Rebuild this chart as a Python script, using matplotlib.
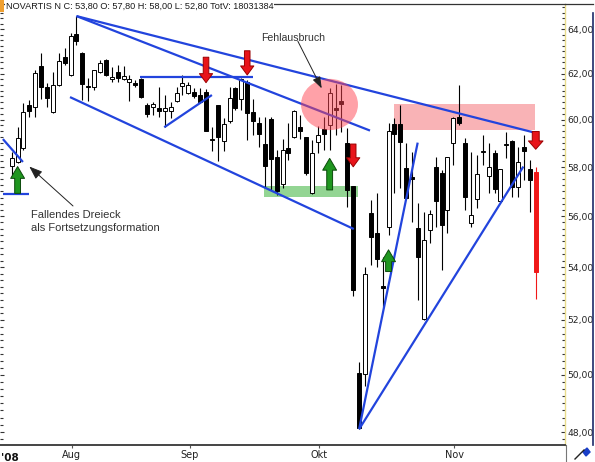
import numpy as np
import pandas as pd
import matplotlib
matplotlib.use("Agg")
import matplotlib.pyplot as plt
from matplotlib.ticker import FixedLocator, FuncFormatter, NullFormatter
from matplotlib.path import Path
from matplotlib.transforms import Affine2D
from matplotlib.lines import Line2D
from matplotlib.patches import Rectangle

# ---------------- data ----------------
dates = [d for d in pd.bdate_range("2008-07-18", "2008-11-21") if d != pd.Timestamp("2008-08-01")]

opens = [58.04, 58.22, 58.78, 60.63, 60.55, 62.34, 61.43, 60.34, 61.50, 62.76,
         61.94, 63.78, 62.93, 61.45, 61.40, 62.09, 62.61, 61.76, 62.06, 61.76,
         61.62, 61.60, 61.75, 60.63, 60.53, 60.48, 60.38, 60.38, 60.80, 61.46,
         61.13, 61.21, 61.06, 61.21, 59.19, 60.61, 59.10, 59.94, 61.35, 60.87,
         61.65, 60.34, 59.87, 58.96, 60.01, 58.40, 57.31, 58.78, 59.25, 59.69,
         59.25, 56.92, 59.06, 59.59, 59.77, 60.50, 60.80, 59.00, 57.20, 50.06,
         50.04, 56.14, 55.32, 53.26, 55.56, 59.81, 59.81, 57.95, 57.59, 55.52,
         52.03, 55.45, 58.02, 57.77, 56.25, 59.02, 60.12, 58.99, 55.74, 56.68,
         58.62, 57.63, 58.60, 56.62, 58.94, 59.10, 57.17, 58.85, 57.92, 57.80]
highs = [58.64, 59.70, 60.71, 60.84, 62.16, 62.90, 61.59, 62.09, 62.92, 63.14,
         63.84, 64.60, 62.95, 61.81, 62.16, 62.61, 62.65, 62.31, 62.39, 62.34,
         61.94, 61.72, 61.81, 60.71, 60.77, 61.43, 61.06, 60.77, 61.43, 61.94,
         61.65, 61.35, 61.35, 61.31, 59.70, 60.63, 60.05, 61.43, 61.43, 61.79,
         61.70, 60.87, 60.12, 60.10, 60.12, 58.71, 59.16, 59.84, 60.41, 60.19,
         59.27, 59.13, 59.73, 60.10, 61.35, 61.54, 61.50, 59.64, 57.22, 50.48,
         54.02, 56.65, 56.95, 54.41, 59.84, 60.05, 60.63, 58.99, 58.64, 56.52,
         56.18, 56.25, 58.40, 57.88, 58.42, 60.12, 61.50, 59.20, 58.64, 58.50,
         59.35, 58.99, 58.71, 57.93, 59.49, 59.12, 58.82, 59.35, 58.29, 58.00]
lows = [57.67, 58.15, 58.71, 60.12, 60.12, 60.87, 60.55, 60.30, 61.45, 62.39,
        61.91, 63.28, 60.84, 60.81, 61.28, 62.03, 61.90, 61.65, 61.65, 61.72,
        60.81, 61.43, 60.95, 60.12, 60.19, 60.10, 59.67, 60.05, 60.77, 61.06,
        61.09, 60.91, 60.70, 59.50, 58.68, 58.26, 58.68, 59.84, 60.41, 60.41,
        59.13, 59.35, 58.82, 57.13, 57.06, 56.86, 57.13, 58.29, 59.20, 59.16,
        57.67, 56.90, 58.60, 58.71, 58.71, 59.35, 59.47, 56.37, 52.88, 48.10,
        49.59, 54.09, 54.02, 52.50, 55.26, 56.92, 57.13, 56.70, 55.78, 52.75,
        52.00, 54.93, 55.58, 53.89, 55.32, 58.08, 59.77, 56.25, 55.58, 56.32,
        58.08, 56.92, 56.92, 56.60, 58.36, 56.79, 56.79, 57.47, 56.17, 52.80]
closes = [58.36, 59.23, 60.34, 60.38, 62.04, 61.40, 60.91, 61.50, 62.58, 62.49,
          63.69, 63.48, 61.54, 61.41, 62.14, 62.46, 61.94, 61.87, 61.82, 61.90,
          61.76, 61.50, 60.99, 60.24, 60.67, 60.38, 60.51, 60.55, 61.13, 61.57,
          61.50, 61.02, 60.77, 59.53, 59.13, 59.25, 59.81, 60.91, 60.48, 61.75,
          60.27, 59.95, 59.39, 58.04, 58.32, 57.03, 58.71, 58.60, 60.38, 59.53,
          57.74, 58.57, 59.35, 59.39, 61.16, 60.43, 60.66, 57.06, 53.13, 48.14,
          53.74, 55.17, 54.31, 53.19, 59.52, 59.39, 59.06, 56.72, 57.52, 54.41,
          55.06, 56.09, 56.62, 55.65, 58.40, 60.05, 59.84, 56.79, 56.05, 57.72,
          58.66, 58.02, 57.09, 57.91, 58.98, 57.17, 58.22, 58.67, 57.47, 53.80]

month_labels = ["Aug", "Sep", "Okt", "Nov"]
price_ticks = [48, 50, 52, 54, 56, 58, 60, 62, 64]
title = "NOVARTIS N C: 53,80 O: 57,80 H: 58,00 L: 52,80 TotV: 18031384"

# annotation geometry (bar index, price)
trend_lines = [
    ((11, 64.60), (89, 59.43)),
    ((11, 64.60), (60.85, 59.53)),
    ((9.9, 60.97), (58.1, 55.49)),
    ((21.8, 61.85), (41.0, 61.85)),
    ((25.9, 59.67), (34.0, 61.06)),
    ((-1.5, 59.17), (1.9, 58.21)),
    ((-1.5, 56.90), (2.9, 56.90)),
    ((59, 48.10), (68.95, 59.02)),
    ((59, 48.10), (86.9, 58.02)),
]
red_arrows = [(33, 62.73, 61.60), (40, 63.02, 61.94), (58, 58.96, 58.01)]
red_arrow_last = (89, 59.49, 58.74)
green_arrows = [(1, 56.92, 58.02), (54, 57.06, 58.36), (64, 53.83, 54.67)]
green_zone = (42.85, 58.82, 56.77, 57.23)
pink_zone = (64.93, 88.87, 59.56, 60.66)
pink_circle = (53.94, 60.67)

# ---------------- figure ----------------
W, H = 595, 462
fig = plt.figure(figsize=(W / 100, H / 100), dpi=100)
fig.patch.set_facecolor("white")
ax = fig.add_axes([0, (H - 445) / H, 565 / W, (445 - 4) / H])
ax.set_yscale("log")
ax.set_xlim(-1.99, 93.97)
ax.set_ylim(47.56, 65.16)

x = np.arange(len(opens))
o = np.array(opens); c = np.array(closes); h = np.array(highs); l = np.array(lows)
n = len(o)
up = c >= o
body_w = 0.68

# zones
ax.fill_between([green_zone[0], green_zone[1]], green_zone[2], green_zone[3],
                color="#93d593", lw=0, zorder=1)
ax.fill_between([pink_zone[0], pink_zone[1]], pink_zone[2], pink_zone[3],
                color="#f9b3b6", lw=0, zorder=1)

# wicks
ax.vlines(x[:-1], l[:-1], h[:-1], color="black", lw=0.8, zorder=3)
ax.vlines(x[-1], l[-1], h[-1], color="#f01818", lw=0.8, zorder=3)
# bodies
for i in range(n - 1):
    lo, hi = min(o[i], c[i]), max(o[i], c[i])
    fc = "white" if up[i] else "black"
    ax.bar(x[i], hi - lo, bottom=lo, width=body_w, facecolor=fc,
           edgecolor="black", lw=0.7, zorder=4)
ax.bar(x[-1], o[-1] - c[-1], bottom=c[-1], width=body_w + 0.05, facecolor="#f01818",
       edgecolor="#f01818", lw=0.7, zorder=4)

# trend lines
for (x0, y0), (x1, y1) in trend_lines:
    ax.plot([x0, x1], [y0, y1], color="#2244dd", lw=1.6, zorder=5, solid_capstyle="butt")

# pink circle (semi transparent over lines and candles)
ell = Path.unit_circle().transformed(Affine2D().scale(1.0, 0.9))
ax.scatter([pink_circle[0]], [pink_circle[1]], s=41 ** 2, marker=ell,
           color="#ff4452", alpha=0.5, lw=0, zorder=6)


def block_arrow(xi, y_tail, y_tip, fc, ec, tw, hw, hl):
    ax.annotate("", xy=(xi, y_tip), xytext=(xi, y_tail), zorder=7,
                arrowprops=dict(arrowstyle=f"simple,head_length={hl},head_width={hw},tail_width={tw}",
                                fc=fc, ec=ec, lw=0.7, shrinkA=0, shrinkB=0, mutation_scale=10))


for xi, yt, yp in red_arrows:
    block_arrow(xi, yt, yp, "#e8141a", "#9a0000", 0.40, 0.95, 0.65)
block_arrow(red_arrow_last[0], red_arrow_last[1], red_arrow_last[2], "#e8141a", "#9a0000", 0.50, 1.05, 0.60)
for xi, yt, yp in green_arrows:
    block_arrow(xi, yt, yp, "#1f961f", "#0b4a0b", 0.42, 1.00, 0.85)

# texts
tfont = dict(family=["Liberation Sans", "DejaVu Sans"], color="#333333")
ax.text(42.34, 63.62, "Fehlausbruch", fontsize=7.6, ha="left", va="center", zorder=8, **tfont)
ax.annotate("", xy=(52.65, 61.35), xytext=(48.6, 63.45), zorder=8,
            arrowprops=dict(arrowstyle="-|>,head_length=0.7,head_width=0.25", color="#222222",
                            lw=0.7, shrinkA=0, shrinkB=0, mutation_scale=10))
ax.text(3.23, 56.05, "Fallendes Dreieck", fontsize=8, ha="left", va="center", zorder=8, **tfont)
ax.text(3.23, 55.53, "als Fortsetzungsformation", fontsize=8, ha="left", va="center", zorder=8, **tfont)
ax.annotate("", xy=(2.99, 58.02), xytext=(10.41, 56.41), zorder=8,
            arrowprops=dict(arrowstyle="-|>,head_length=0.8,head_width=0.3", color="#222222",
                            lw=0.7, shrinkA=0, shrinkB=0, mutation_scale=10))

# ---------------- axes styling ----------------
ax.yaxis.set_major_locator(FixedLocator(price_ticks))
minor = [v for v in np.arange(47.75, 65.2, 0.25) if abs(v - round(v)) > 1e-6 or int(round(v)) % 2]
ax.yaxis.set_minor_locator(FixedLocator(minor))
ax.yaxis.set_major_formatter(FuncFormatter(lambda v, p: f"{v:.2f}".replace(".", ",")))
ax.yaxis.set_minor_formatter(NullFormatter())
ax.yaxis.set_ticks_position("both")
ax.tick_params(axis="y", which="both", direction="in", labelleft=False, labelright=True,
               labelsize=6.6, labelcolor="#222222", pad=2, color="#333333")
ax.tick_params(axis="y", which="major", length=3, width=0.8)
ax.tick_params(axis="y", which="minor", length=2, width=0.8)
for lab in ax.get_yticklabels():
    lab.set_family(["DejaVu Sans"])

month_idx = []
for m in [8, 9, 10, 11]:
    month_idx.append(next(i for i, d in enumerate(dates) if d.month == m))
ax.set_xticks([i + 0.2 for i in month_idx])
ax.set_xticklabels(month_labels)
ax.tick_params(axis="x", direction="out", length=2, width=0.8, labelsize=7,
               labelcolor="#222222", pad=1.5, color="#555555")
for lab in ax.get_xticklabels():
    lab.set_family(["DejaVu Sans"])
ax.text(0.002, -0.018, "'08", transform=ax.transAxes, fontsize=7.5, fontweight="bold",
        ha="left", va="top", family=["DejaVu Sans"], color="#111111")

ax.spines["left"].set_visible(False)
ax.spines["top"].set_color("#333333")
ax.spines["top"].set_linewidth(0.9)
ax.spines["bottom"].set_color("#444444")
ax.spines["bottom"].set_linewidth(1.4)
ax.spines["right"].set_color("#e9dc8c")
ax.spines["right"].set_linestyle((0, (1, 1)))
ax.spines["right"].set_linewidth(1.0)

# frame extras
fig.add_artist(Line2D([592.5 / W, 592.5 / W], [1 - 13 / H, 1 - 445 / H], color="#1c2a6a", lw=1.2))
fig.add_artist(Line2D([565 / W, 592.5 / W], [1 - 4 / H, 1 - 4 / H], color="#333333", lw=0.9))
fig.add_artist(Line2D([565.5 / W, 565.5 / W], [0, 1 - 445 / H], color="#777777", lw=0.8))
fig.add_artist(Line2D([575 / W, 584 / W], [1 - 459 / H, 1 - 450 / H], color="#222222", lw=1.0))
fig.add_artist(plt.Polygon([[583 / W, 1 - 452 / H], [587 / W, 1 - 448 / H],
                            [590 / W, 1 - 452 / H], [586 / W, 1 - 456 / H]],
                           closed=True, transform=fig.transFigure, color="#1a3fc8"))
fig.add_artist(Rectangle((0, 1 - 12 / H), 4 / W, 12 / H, transform=fig.transFigure,
                         color="#f0a030", lw=0))
fig.text(6 / W, 1 - 6.5 / H, title, fontsize=6.6, ha="left", va="center",
         family=["Liberation Sans", "DejaVu Sans"], color="#1a1a1a",
         bbox=dict(facecolor="white", edgecolor="none", pad=0.6))

fig.savefig("out.png", dpi=100, facecolor="white")
